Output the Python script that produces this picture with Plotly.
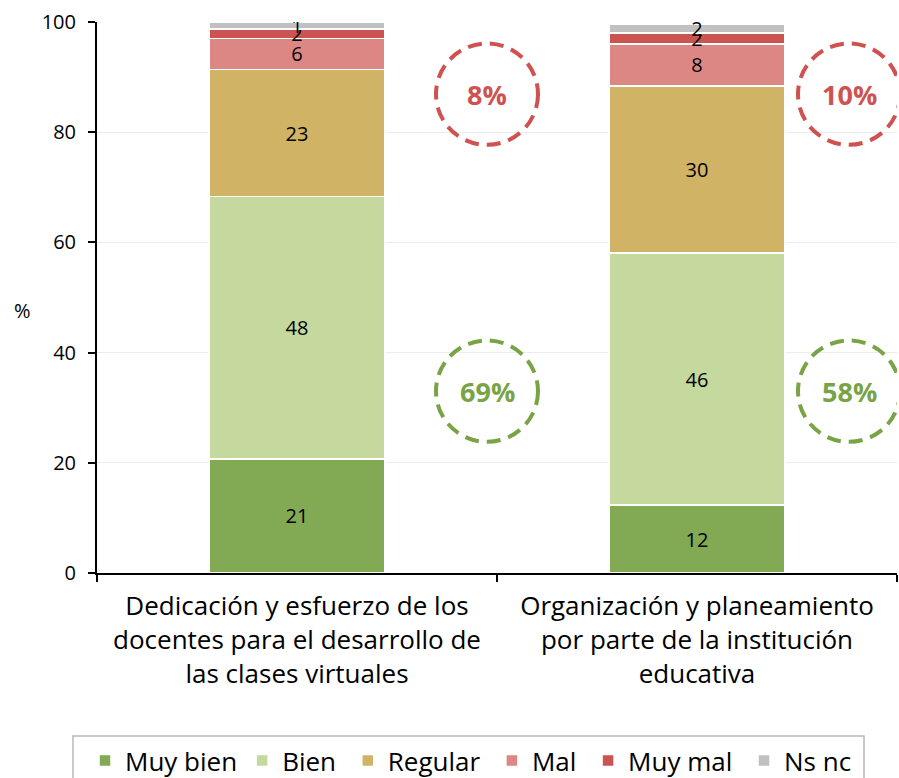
import plotly.graph_objects as go

categories = [
    "Dedicación y esfuerzo de los<br>docentes para el desarrollo de<br>las clases virtuales",
    "Organización y planeamiento<br>por parte de la institución<br>educativa",
]
series_names = ["Muy bien", "Bien", "Regular", "Mal", "Muy mal", "Ns nc"]
muy_bien = [20.7, 12.3]
bien = [47.6, 45.8]
regular = [23.1, 30.3]
mal = [5.6, 7.6]
muy_mal = [1.7, 2.0]
ns_nc = [1.2, 1.6]
positive_totals = ["69%", "58%"]
negative_totals = ["8%", "10%"]
y_ticks = [0, 20, 40, 60, 80, 100]

colors = ["#82a953", "#c5d89d", "#d1b366", "#dc8783", "#cb5450", "#c0c0c0"]
values = [muy_bien, bien, regular, mal, muy_mal, ns_nc]

FONT = "Open Sans"
W, H = 899, 778
L, R, T, B = 97, 2, 22, 205
PW, PH = W - L - R, H - T - B


def px_x(p):
    return (p - L) / PW


def px_y(p):
    return (H - B - p) / PH


fig = go.Figure()
for k, (name, vals, col) in enumerate(zip(series_names, values, colors)):
    # non-breaking space pads the spacing between legend entries
    legend_name = name + ("\u00a0" if 0 < k < len(series_names) - 1 else "")
    fig.add_trace(go.Bar(
        x=categories, y=vals, name=legend_name,
        marker=dict(color=col, line=dict(color="white", width=1.5)),
        width=0.44,
        texttemplate="%{y:.0f}", textposition="inside", textangle=0,
        insidetextanchor="middle", constraintext="none",
        textfont=dict(color="black", size=20, family=FONT),
        hoverinfo="skip",
    ))

shapes = []
annotations = []
red = "#cf5250"
green = "#79a446"
circle_x = [0.475, 1.38]
for i in range(2):
    cx = circle_x[i]
    for cy, col, txt in [(86.9, red, negative_totals[i]), (33.0, green, positive_totals[i])]:
        rx, ry = 0.1275, 9.2
        shapes.append(dict(type="circle", xref="x", yref="y",
                           x0=cx - rx, x1=cx + rx, y0=cy - ry, y1=cy + ry,
                           line=dict(color=col, width=4, dash="14px,8px")))
        annotations.append(dict(x=cx, y=cy, xref="x", yref="y", text="<b>%s</b>" % txt,
                                showarrow=False, font=dict(color=col, size=27, family=FONT)))

# legend frame
shapes.append(dict(type="rect", xref="paper", yref="paper",
                   x0=px_x(73), x1=px_x(864), y0=px_y(736), y1=px_y(800),
                   line=dict(color="#b8b8b8", width=1.5), fillcolor="rgba(0,0,0,0)"))

annotations.append(dict(x=px_x(22), y=px_y(310), xref="paper", yref="paper",
                        xanchor="center", yanchor="middle",
                        text="%", showarrow=False,
                        font=dict(size=20, color="black", family=FONT)))

fig.update_layout(
    width=W, height=H,
    margin=dict(l=L, r=R, t=T, b=B, autoexpand=False),
    plot_bgcolor="white", paper_bgcolor="white",
    barmode="stack", bargap=0.56,
    font=dict(family=FONT, color="black"),
    shapes=shapes,
    annotations=annotations,
    showlegend=True,
    legend=dict(orientation="h", x=px_x(85), xanchor="left", y=px_y(737), yanchor="top",
                borderwidth=0, bgcolor="rgba(0,0,0,0)",
                font=dict(size=26, family=FONT), itemwidth=30, traceorder="normal"),
    xaxis=dict(
        type="category", range=[-0.5, 1.5],
        showline=True, linecolor="black", linewidth=2,
        ticks="outside", tickson="boundaries", ticklen=7, tickcolor="black", tickwidth=2,
        tickfont=dict(size=26, family=FONT), showgrid=False, automargin=False,
        ticklabelstandoff=9,
    ),
    yaxis=dict(
        range=[0, 100], tickvals=y_ticks, showline=True, linecolor="black", linewidth=2,
        ticks="outside", ticklen=7, tickcolor="black", tickwidth=2,
        tickfont=dict(size=20, family=FONT), showgrid=True, gridcolor="#ececec", gridwidth=1,
        zeroline=False, automargin=False, ticklabelstandoff=8,
    ),
)

fig.write_html("out.html", config={"displayModeBar": False},
               post_script="document.body.style.margin='0';document.body.style.overflow='hidden';")
